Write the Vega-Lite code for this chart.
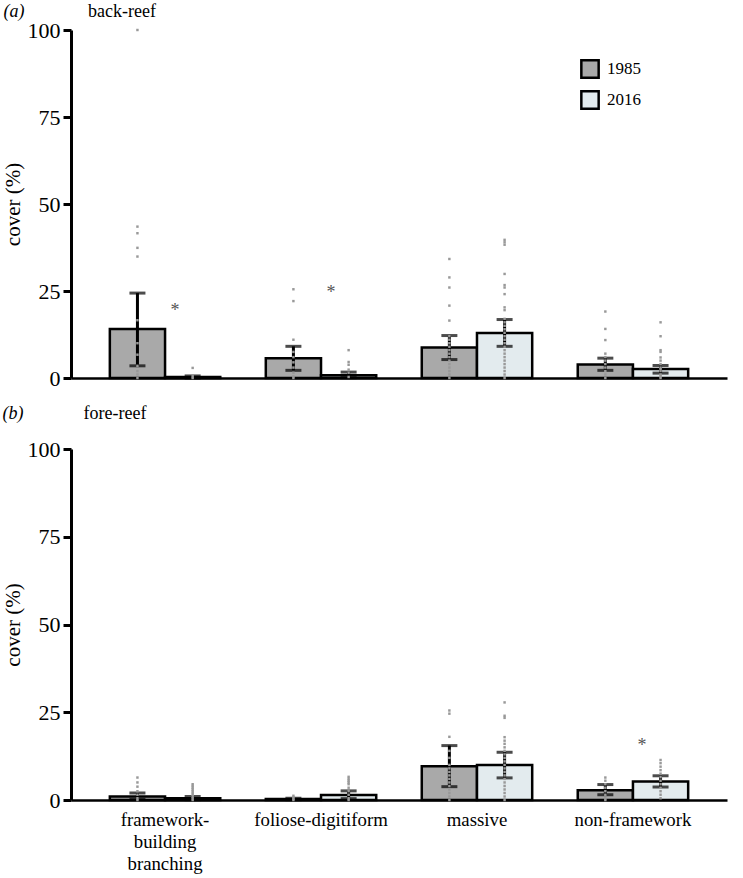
{
  "$schema": "https://vega.github.io/schema/vega-lite/v6.json",
  "background": "white",
  "padding": {"left": 2, "top": 2, "right": 5, "bottom": 2},
  "spacing": 15,
  "config": {
    "view": {"stroke": null},
    "font": "Liberation Serif",
    "axis": {"labelFont": "Liberation Serif", "titleFont": "Liberation Serif", "labelColor": "black", "titleColor": "black", "domainColor": "black", "tickColor": "black", "grid": false},
    "legend": {"labelFont": "Liberation Serif"},
    "text": {"font": "Liberation Serif"}
  },
  "datasets": {
    "a_bars": [
      {"category": "framework-building branching", "year": "1985", "mean": 14.1, "lo": 3.5, "hi": 24.4},
      {"category": "framework-building branching", "year": "2016", "mean": 0.3, "lo": 0.0, "hi": 0.6},
      {"category": "foliose-digitiform", "year": "1985", "mean": 5.7, "lo": 2.2, "hi": 9.1},
      {"category": "foliose-digitiform", "year": "2016", "mean": 0.8, "lo": 0.1, "hi": 1.7},
      {"category": "massive", "year": "1985", "mean": 8.8, "lo": 5.3, "hi": 12.2},
      {"category": "massive", "year": "2016", "mean": 12.9, "lo": 9.1, "hi": 16.8},
      {"category": "non-framework", "year": "1985", "mean": 3.9, "lo": 2.2, "hi": 5.7},
      {"category": "non-framework", "year": "2016", "mean": 2.6, "lo": 1.4, "hi": 3.6}
    ],
    "b_bars": [
      {"category": "framework-building branching", "year": "1985", "mean": 1.0, "lo": 0.2, "hi": 2.0},
      {"category": "framework-building branching", "year": "2016", "mean": 0.5, "lo": 0.1, "hi": 1.0},
      {"category": "foliose-digitiform", "year": "1985", "mean": 0.3, "lo": 0.1, "hi": 0.5},
      {"category": "foliose-digitiform", "year": "2016", "mean": 1.4, "lo": 0.4, "hi": 2.6},
      {"category": "massive", "year": "1985", "mean": 9.6, "lo": 3.8, "hi": 15.5},
      {"category": "massive", "year": "2016", "mean": 10.0, "lo": 6.3, "hi": 13.6},
      {"category": "non-framework", "year": "1985", "mean": 2.8, "lo": 1.5, "hi": 4.4},
      {"category": "non-framework", "year": "2016", "mean": 5.3, "lo": 3.7, "hi": 6.9}
    ],
    "a_dots": [
      {"category": "framework-building branching", "year": "1985", "v": 100},
      {"category": "framework-building branching", "year": "1985", "v": 43.5},
      {"category": "framework-building branching", "year": "1985", "v": 41.6},
      {"category": "framework-building branching", "year": "1985", "v": 37.4},
      {"category": "framework-building branching", "year": "1985", "v": 34.9},
      {"category": "framework-building branching", "year": "1985", "v": 16.6},
      {"category": "framework-building branching", "year": "1985", "v": 10},
      {"category": "framework-building branching", "year": "1985", "v": 6.7},
      {"category": "framework-building branching", "year": "1985", "v": 3.5},
      {"category": "framework-building branching", "year": "1985", "v": 2},
      {"category": "framework-building branching", "year": "1985", "v": 1},
      {"category": "framework-building branching", "year": "1985", "v": 0},
      {"category": "framework-building branching", "year": "2016", "v": 2.9},
      {"category": "framework-building branching", "year": "2016", "v": 0.5},
      {"category": "framework-building branching", "year": "2016", "v": 0},
      {"category": "foliose-digitiform", "year": "1985", "v": 25.5},
      {"category": "foliose-digitiform", "year": "1985", "v": 22.1},
      {"category": "foliose-digitiform", "year": "1985", "v": 11.0},
      {"category": "foliose-digitiform", "year": "1985", "v": 7.5},
      {"category": "foliose-digitiform", "year": "1985", "v": 6},
      {"category": "foliose-digitiform", "year": "1985", "v": 4.5},
      {"category": "foliose-digitiform", "year": "1985", "v": 3},
      {"category": "foliose-digitiform", "year": "1985", "v": 1.5},
      {"category": "foliose-digitiform", "year": "1985", "v": 0.5},
      {"category": "foliose-digitiform", "year": "1985", "v": 0},
      {"category": "foliose-digitiform", "year": "2016", "v": 8.0},
      {"category": "foliose-digitiform", "year": "2016", "v": 4.6},
      {"category": "foliose-digitiform", "year": "2016", "v": 3.8},
      {"category": "foliose-digitiform", "year": "2016", "v": 2.4},
      {"category": "foliose-digitiform", "year": "2016", "v": 1.5},
      {"category": "foliose-digitiform", "year": "2016", "v": 0.3},
      {"category": "massive", "year": "1985", "v": 34.2},
      {"category": "massive", "year": "1985", "v": 28.9},
      {"category": "massive", "year": "1985", "v": 26.0},
      {"category": "massive", "year": "1985", "v": 20.8},
      {"category": "massive", "year": "1985", "v": 16.5},
      {"category": "massive", "year": "1985", "v": 12},
      {"category": "massive", "year": "1985", "v": 11},
      {"category": "massive", "year": "1985", "v": 10},
      {"category": "massive", "year": "1985", "v": 9},
      {"category": "massive", "year": "1985", "v": 8},
      {"category": "massive", "year": "1985", "v": 7},
      {"category": "massive", "year": "1985", "v": 6},
      {"category": "massive", "year": "1985", "v": 5},
      {"category": "massive", "year": "1985", "v": 4},
      {"category": "massive", "year": "1985", "v": 3},
      {"category": "massive", "year": "1985", "v": 2},
      {"category": "massive", "year": "1985", "v": 1},
      {"category": "massive", "year": "1985", "v": 0},
      {"category": "massive", "year": "2016", "v": 39.7},
      {"category": "massive", "year": "2016", "v": 39.0},
      {"category": "massive", "year": "2016", "v": 38.3},
      {"category": "massive", "year": "2016", "v": 29.9},
      {"category": "massive", "year": "2016", "v": 26.7},
      {"category": "massive", "year": "2016", "v": 26.0},
      {"category": "massive", "year": "2016", "v": 24.1},
      {"category": "massive", "year": "2016", "v": 20.3},
      {"category": "massive", "year": "2016", "v": 19.5},
      {"category": "massive", "year": "2016", "v": 17},
      {"category": "massive", "year": "2016", "v": 16},
      {"category": "massive", "year": "2016", "v": 15},
      {"category": "massive", "year": "2016", "v": 14},
      {"category": "massive", "year": "2016", "v": 13},
      {"category": "massive", "year": "2016", "v": 12},
      {"category": "massive", "year": "2016", "v": 11},
      {"category": "massive", "year": "2016", "v": 10},
      {"category": "massive", "year": "2016", "v": 9},
      {"category": "massive", "year": "2016", "v": 8},
      {"category": "massive", "year": "2016", "v": 7},
      {"category": "massive", "year": "2016", "v": 6},
      {"category": "massive", "year": "2016", "v": 5},
      {"category": "massive", "year": "2016", "v": 4},
      {"category": "massive", "year": "2016", "v": 3},
      {"category": "massive", "year": "2016", "v": 2},
      {"category": "massive", "year": "2016", "v": 1},
      {"category": "massive", "year": "2016", "v": 0},
      {"category": "non-framework", "year": "1985", "v": 19.1},
      {"category": "non-framework", "year": "1985", "v": 14.1},
      {"category": "non-framework", "year": "1985", "v": 10.9},
      {"category": "non-framework", "year": "1985", "v": 7.0},
      {"category": "non-framework", "year": "1985", "v": 6},
      {"category": "non-framework", "year": "1985", "v": 5},
      {"category": "non-framework", "year": "1985", "v": 4},
      {"category": "non-framework", "year": "1985", "v": 3},
      {"category": "non-framework", "year": "1985", "v": 2},
      {"category": "non-framework", "year": "1985", "v": 1},
      {"category": "non-framework", "year": "1985", "v": 0},
      {"category": "non-framework", "year": "2016", "v": 16.0},
      {"category": "non-framework", "year": "2016", "v": 12.0},
      {"category": "non-framework", "year": "2016", "v": 8.0},
      {"category": "non-framework", "year": "2016", "v": 7.5},
      {"category": "non-framework", "year": "2016", "v": 5.9},
      {"category": "non-framework", "year": "2016", "v": 5},
      {"category": "non-framework", "year": "2016", "v": 4},
      {"category": "non-framework", "year": "2016", "v": 3},
      {"category": "non-framework", "year": "2016", "v": 2.5},
      {"category": "non-framework", "year": "2016", "v": 2},
      {"category": "non-framework", "year": "2016", "v": 1},
      {"category": "non-framework", "year": "2016", "v": 0.5},
      {"category": "non-framework", "year": "2016", "v": 0}
    ],
    "b_dots": [
      {"category": "framework-building branching", "year": "1985", "v": 6.4},
      {"category": "framework-building branching", "year": "1985", "v": 5.0},
      {"category": "framework-building branching", "year": "1985", "v": 3.8},
      {"category": "framework-building branching", "year": "1985", "v": 2.5},
      {"category": "framework-building branching", "year": "1985", "v": 1.5},
      {"category": "framework-building branching", "year": "1985", "v": 0.5},
      {"category": "framework-building branching", "year": "1985", "v": 0},
      {"category": "framework-building branching", "year": "2016", "v": 4.5},
      {"category": "framework-building branching", "year": "2016", "v": 4.0},
      {"category": "framework-building branching", "year": "2016", "v": 3.5},
      {"category": "framework-building branching", "year": "2016", "v": 3.0},
      {"category": "framework-building branching", "year": "2016", "v": 2.5},
      {"category": "framework-building branching", "year": "2016", "v": 2.0},
      {"category": "framework-building branching", "year": "2016", "v": 1.5},
      {"category": "framework-building branching", "year": "2016", "v": 1.0},
      {"category": "framework-building branching", "year": "2016", "v": 0.5},
      {"category": "framework-building branching", "year": "2016", "v": 0},
      {"category": "foliose-digitiform", "year": "1985", "v": 1.2},
      {"category": "foliose-digitiform", "year": "1985", "v": 0.8},
      {"category": "foliose-digitiform", "year": "1985", "v": 0.4},
      {"category": "foliose-digitiform", "year": "1985", "v": 0},
      {"category": "foliose-digitiform", "year": "2016", "v": 6.6},
      {"category": "foliose-digitiform", "year": "2016", "v": 6.0},
      {"category": "foliose-digitiform", "year": "2016", "v": 5.5},
      {"category": "foliose-digitiform", "year": "2016", "v": 5.0},
      {"category": "foliose-digitiform", "year": "2016", "v": 4.5},
      {"category": "foliose-digitiform", "year": "2016", "v": 3.5},
      {"category": "foliose-digitiform", "year": "2016", "v": 2.5},
      {"category": "foliose-digitiform", "year": "2016", "v": 1.5},
      {"category": "foliose-digitiform", "year": "2016", "v": 0.5},
      {"category": "foliose-digitiform", "year": "2016", "v": 0},
      {"category": "massive", "year": "1985", "v": 25.5},
      {"category": "massive", "year": "1985", "v": 24.6},
      {"category": "massive", "year": "1985", "v": 18},
      {"category": "massive", "year": "1985", "v": 14},
      {"category": "massive", "year": "1985", "v": 12},
      {"category": "massive", "year": "1985", "v": 10},
      {"category": "massive", "year": "1985", "v": 9},
      {"category": "massive", "year": "1985", "v": 8},
      {"category": "massive", "year": "1985", "v": 7},
      {"category": "massive", "year": "1985", "v": 6},
      {"category": "massive", "year": "1985", "v": 5},
      {"category": "massive", "year": "1985", "v": 4},
      {"category": "massive", "year": "1985", "v": 3},
      {"category": "massive", "year": "1985", "v": 2},
      {"category": "massive", "year": "1985", "v": 1},
      {"category": "massive", "year": "1985", "v": 0},
      {"category": "massive", "year": "2016", "v": 27.8},
      {"category": "massive", "year": "2016", "v": 24.0},
      {"category": "massive", "year": "2016", "v": 23.4},
      {"category": "massive", "year": "2016", "v": 17.9},
      {"category": "massive", "year": "2016", "v": 16.9},
      {"category": "massive", "year": "2016", "v": 16},
      {"category": "massive", "year": "2016", "v": 15},
      {"category": "massive", "year": "2016", "v": 14},
      {"category": "massive", "year": "2016", "v": 13},
      {"category": "massive", "year": "2016", "v": 12},
      {"category": "massive", "year": "2016", "v": 11},
      {"category": "massive", "year": "2016", "v": 10},
      {"category": "massive", "year": "2016", "v": 9},
      {"category": "massive", "year": "2016", "v": 8},
      {"category": "massive", "year": "2016", "v": 7},
      {"category": "massive", "year": "2016", "v": 6},
      {"category": "massive", "year": "2016", "v": 5},
      {"category": "massive", "year": "2016", "v": 4},
      {"category": "massive", "year": "2016", "v": 3},
      {"category": "massive", "year": "2016", "v": 2},
      {"category": "massive", "year": "2016", "v": 1},
      {"category": "massive", "year": "2016", "v": 0},
      {"category": "non-framework", "year": "1985", "v": 6.4},
      {"category": "non-framework", "year": "1985", "v": 5.5},
      {"category": "non-framework", "year": "1985", "v": 4.5},
      {"category": "non-framework", "year": "1985", "v": 3.5},
      {"category": "non-framework", "year": "1985", "v": 2.5},
      {"category": "non-framework", "year": "1985", "v": 1.5},
      {"category": "non-framework", "year": "1985", "v": 0.5},
      {"category": "non-framework", "year": "1985", "v": 0},
      {"category": "non-framework", "year": "2016", "v": 11.4},
      {"category": "non-framework", "year": "2016", "v": 10.5},
      {"category": "non-framework", "year": "2016", "v": 9.5},
      {"category": "non-framework", "year": "2016", "v": 8.5},
      {"category": "non-framework", "year": "2016", "v": 7.5},
      {"category": "non-framework", "year": "2016", "v": 6.5},
      {"category": "non-framework", "year": "2016", "v": 5.5},
      {"category": "non-framework", "year": "2016", "v": 4.5},
      {"category": "non-framework", "year": "2016", "v": 3.5},
      {"category": "non-framework", "year": "2016", "v": 2.5},
      {"category": "non-framework", "year": "2016", "v": 1.5},
      {"category": "non-framework", "year": "2016", "v": 0.5}
    ]
  },
  "vconcat": [
    {
      "width": 656,
      "height": 348,
      "layer": [
        {
          "data": {"name": "a_bars"},
          "mark": {"type": "bar", "stroke": "black", "strokeWidth": 2.5},
          "encoding": {
            "x": {"field": "category", "type": "nominal", "sort": ["framework-building branching", "foliose-digitiform", "massive", "non-framework"], "scale": {"paddingInner": 0.292, "paddingOuter": 0.249}, "axis": {"title": null, "labels": false, "ticks": false, "tickSize": 0, "domainWidth": 2.5, "domainColor": "black"}},
            "xOffset": {"field": "year", "type": "nominal", "sort": ["1985", "2016"], "scale": {"paddingInner": 0, "paddingOuter": 0}},
            "y": {"field": "mean", "type": "quantitative", "stack": null, "scale": {"domain": [0, 100], "nice": false}, "axis": {"values": [0, 25, 50, 75, 100], "title": "cover (%)", "titleFontSize": 21, "titleFontWeight": "normal", "labelFontSize": 22, "domainWidth": 3, "tickWidth": 3, "tickSize": 8, "labelPadding": 3, "titlePadding": 4}},
            "fill": {"field": "year", "type": "nominal", "scale": {"domain": ["1985", "2016"], "range": ["#a9a9a9", "#e3ebee"]}, "legend": {"orient": "none", "legendX": 509, "legendY": 29, "title": null, "symbolType": "square", "symbolSize": 300, "symbolStrokeColor": "black", "symbolStrokeWidth": 2.5, "labelFontSize": 17, "labelOffset": 7, "rowPadding": 3}}
          }
        },
        {
          "data": {"name": "a_bars"},
          "mark": {"type": "rule", "color": "black", "strokeWidth": 3},
          "encoding": {
            "x": {"field": "category", "type": "nominal", "sort": ["framework-building branching", "foliose-digitiform", "massive", "non-framework"]},
            "xOffset": {"field": "year", "type": "nominal", "sort": ["1985", "2016"]},
            "y": {"field": "lo", "type": "quantitative"},
            "y2": {"field": "hi"}
          }
        },
        {
          "data": {"name": "a_bars"},
          "mark": {"type": "tick", "color": "black", "thickness": 3, "size": 16},
          "encoding": {
            "x": {"field": "category", "type": "nominal", "sort": ["framework-building branching", "foliose-digitiform", "massive", "non-framework"]},
            "xOffset": {"field": "year", "type": "nominal", "sort": ["1985", "2016"]},
            "y": {"field": "hi", "type": "quantitative"}
          }
        },
        {
          "data": {"name": "a_bars"},
          "mark": {"type": "tick", "color": "black", "thickness": 3, "size": 16},
          "encoding": {
            "x": {"field": "category", "type": "nominal", "sort": ["framework-building branching", "foliose-digitiform", "massive", "non-framework"]},
            "xOffset": {"field": "year", "type": "nominal", "sort": ["1985", "2016"]},
            "y": {"field": "lo", "type": "quantitative"}
          }
        },
        {
          "data": {"name": "a_dots"},
          "mark": {"type": "square", "size": 6, "color": "#999999", "opacity": 1},
          "encoding": {
            "x": {"field": "category", "type": "nominal", "sort": ["framework-building branching", "foliose-digitiform", "massive", "non-framework"]},
            "xOffset": {"field": "year", "type": "nominal", "sort": ["1985", "2016"]},
            "y": {"field": "v", "type": "quantitative"}
          }
        },
        {
          "data": {"values": [
            {"category": "framework-building branching", "y": 19.3, "label": "*"},
            {"category": "foliose-digitiform", "y": 24.3, "label": "*"}
          ]},
          "mark": {"type": "text", "fontSize": 18, "color": "#555555", "dx": 10, "baseline": "middle"},
          "encoding": {
            "x": {"field": "category", "type": "nominal", "sort": ["framework-building branching", "foliose-digitiform", "massive", "non-framework"]},
            "y": {"field": "y", "type": "quantitative"},
            "text": {"field": "label"}
          }
        },
        {
          "data": {"values": [{"category": "framework-building branching", "y": 105.2, "label": "(a)"}]},
          "mark": {"type": "text", "fontSize": 18, "fontStyle": "italic", "color": "black", "dx": -151, "baseline": "middle"},
          "encoding": {
            "x": {"field": "category", "type": "nominal", "sort": ["framework-building branching", "foliose-digitiform", "massive", "non-framework"]},
            "y": {"field": "y", "type": "quantitative"},
            "text": {"field": "label"}
          }
        },
        {
          "data": {"values": [{"category": "framework-building branching", "y": 105.2, "label": "back-reef"}]},
          "mark": {"type": "text", "fontSize": 18, "color": "black", "dx": -43, "baseline": "middle"},
          "encoding": {
            "x": {"field": "category", "type": "nominal", "sort": ["framework-building branching", "foliose-digitiform", "massive", "non-framework"]},
            "y": {"field": "y", "type": "quantitative"},
            "text": {"field": "label"}
          }
        }
      ]
    },
    {
      "width": 656,
      "height": 351,
      "layer": [
        {
          "data": {"name": "b_bars"},
          "mark": {"type": "bar", "stroke": "black", "strokeWidth": 2.5},
          "encoding": {
            "x": {"field": "category", "type": "nominal", "sort": ["framework-building branching", "foliose-digitiform", "massive", "non-framework"], "scale": {"paddingInner": 0.292, "paddingOuter": 0.249}, "axis": {"title": null, "ticks": false, "tickSize": 0, "labelAngle": 0, "labelFontSize": 18.8, "labelLineHeight": 22, "labelPadding": 10, "labelBaseline": "top", "labelExpr": "datum.value == 'framework-building branching' ? ['framework-', 'building', 'branching'] : datum.label", "domainWidth": 2.5, "domainColor": "black"}},
            "xOffset": {"field": "year", "type": "nominal", "sort": ["1985", "2016"], "scale": {"paddingInner": 0, "paddingOuter": 0}},
            "y": {"field": "mean", "type": "quantitative", "stack": null, "scale": {"domain": [0, 100], "nice": false}, "axis": {"values": [0, 25, 50, 75, 100], "title": "cover (%)", "titleFontSize": 21, "titleFontWeight": "normal", "labelFontSize": 22, "domainWidth": 3, "tickWidth": 3, "tickSize": 8, "labelPadding": 3, "titlePadding": 4}},
            "fill": {"field": "year", "type": "nominal", "scale": {"domain": ["1985", "2016"], "range": ["#a9a9a9", "#e3ebee"]}, "legend": null}
          }
        },
        {
          "data": {"name": "b_bars"},
          "mark": {"type": "rule", "color": "black", "strokeWidth": 3},
          "encoding": {
            "x": {"field": "category", "type": "nominal", "sort": ["framework-building branching", "foliose-digitiform", "massive", "non-framework"]},
            "xOffset": {"field": "year", "type": "nominal", "sort": ["1985", "2016"]},
            "y": {"field": "lo", "type": "quantitative"},
            "y2": {"field": "hi"}
          }
        },
        {
          "data": {"name": "b_bars"},
          "mark": {"type": "tick", "color": "black", "thickness": 3, "size": 16},
          "encoding": {
            "x": {"field": "category", "type": "nominal", "sort": ["framework-building branching", "foliose-digitiform", "massive", "non-framework"]},
            "xOffset": {"field": "year", "type": "nominal", "sort": ["1985", "2016"]},
            "y": {"field": "hi", "type": "quantitative"}
          }
        },
        {
          "data": {"name": "b_bars"},
          "mark": {"type": "tick", "color": "black", "thickness": 3, "size": 16},
          "encoding": {
            "x": {"field": "category", "type": "nominal", "sort": ["framework-building branching", "foliose-digitiform", "massive", "non-framework"]},
            "xOffset": {"field": "year", "type": "nominal", "sort": ["1985", "2016"]},
            "y": {"field": "lo", "type": "quantitative"}
          }
        },
        {
          "data": {"name": "b_dots"},
          "mark": {"type": "square", "size": 6, "color": "#999999", "opacity": 1},
          "encoding": {
            "x": {"field": "category", "type": "nominal", "sort": ["framework-building branching", "foliose-digitiform", "massive", "non-framework"]},
            "xOffset": {"field": "year", "type": "nominal", "sort": ["1985", "2016"]},
            "y": {"field": "v", "type": "quantitative"}
          }
        },
        {
          "data": {"values": [{"category": "non-framework", "y": 15.5, "label": "*"}]},
          "mark": {"type": "text", "fontSize": 18, "color": "#555555", "dx": 9, "baseline": "middle"},
          "encoding": {
            "x": {"field": "category", "type": "nominal", "sort": ["framework-building branching", "foliose-digitiform", "massive", "non-framework"]},
            "y": {"field": "y", "type": "quantitative"},
            "text": {"field": "label"}
          }
        },
        {
          "data": {"values": [{"category": "framework-building branching", "y": 110.1, "label": "(b)"}]},
          "mark": {"type": "text", "fontSize": 18, "fontStyle": "italic", "color": "black", "dx": -152, "baseline": "middle"},
          "encoding": {
            "x": {"field": "category", "type": "nominal", "sort": ["framework-building branching", "foliose-digitiform", "massive", "non-framework"]},
            "y": {"field": "y", "type": "quantitative"},
            "text": {"field": "label"}
          }
        },
        {
          "data": {"values": [{"category": "framework-building branching", "y": 110.1, "label": "fore-reef"}]},
          "mark": {"type": "text", "fontSize": 18, "color": "black", "dx": -50, "baseline": "middle"},
          "encoding": {
            "x": {"field": "category", "type": "nominal", "sort": ["framework-building branching", "foliose-digitiform", "massive", "non-framework"]},
            "y": {"field": "y", "type": "quantitative"},
            "text": {"field": "label"}
          }
        }
      ]
    }
  ],
  "resolve": {
    "scale": {"x": "independent", "y": "independent", "fill": "independent", "xOffset": "independent"},
    "axis": {"x": "independent", "y": "independent"},
    "legend": {"fill": "independent"}
  }
}
